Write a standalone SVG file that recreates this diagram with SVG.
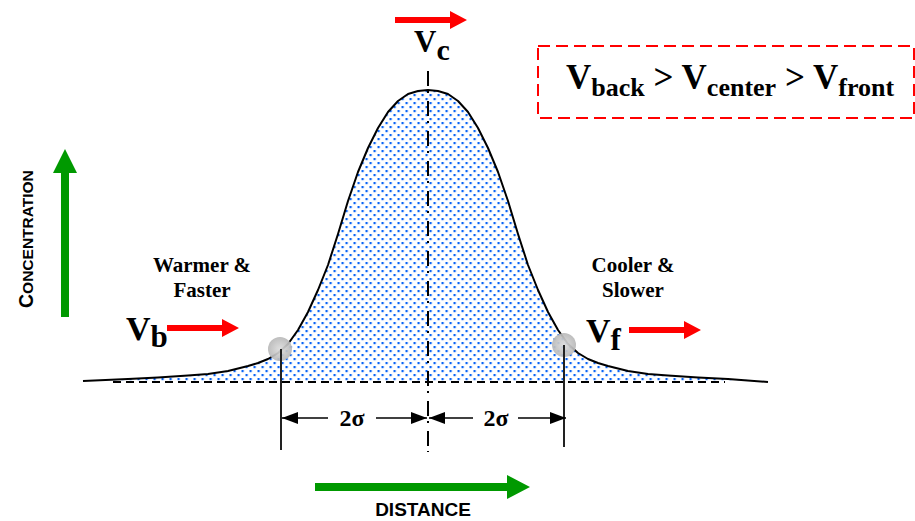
<svg xmlns="http://www.w3.org/2000/svg" width="915" height="521" viewBox="0 0 915 521">
<style>
.serif{font-family:"Liberation Serif","Times New Roman",serif;font-weight:bold;fill:#000}
.sans{font-family:"Liberation Sans",Arial,sans-serif;font-weight:bold;fill:#000}
.red{fill:#ff0000}
.green{fill:#009900}
.dim{stroke:#000;stroke-width:1.6;fill:none}
.vline{stroke:#222;stroke-width:2;fill:none}
</style>
<defs>
<pattern id="dots" width="8" height="8" patternUnits="userSpaceOnUse" x="1.5" y="2">
<rect x="0" y="0" width="2.2" height="2.2" fill="#0a64f5"/>
<rect x="4" y="4" width="2.2" height="2.2" fill="#0a64f5"/>
</pattern>
<radialGradient id="ball" cx="0.5" cy="0.5" r="0.5">
<stop offset="0" stop-color="#dcdcdc"/>
<stop offset="1" stop-color="#b8b8b8"/>
</radialGradient>
<path id="redArrow" d="M0,-3 H55 V-9 L72,0 L55,9 V3 H0 Z"/>
<marker id="ah" viewBox="0 0 16 12" refX="16" refY="6" markerWidth="16" markerHeight="12" markerUnits="userSpaceOnUse" orient="auto-start-reverse">
<path d="M0,0 L16,6 L0,12 Z" fill="#000"/>
</marker>
</defs>
<rect width="915" height="521" fill="#fff"/>

<g id="curve">
<path fill="url(#dots)" d="M83,381 L128,379 L158,377.5 L188,375.5 L208,374 L228,371 L248,366 L258,363 L268,359 L278,353 L288,344 L298,330 L308,312 L318,290 L328,265 L338,234 L348,201 L358,172 L368,148 L378,128 L388,112 L398,101 L408,94 L418,91 L428,90 L438,91 L448,94 L458,101 L468,112 L478,128 L488,148 L498,172 L508,201 L518,234 L528,265 L538,290 L548,312 L558,330 L568,344 L578,353 L588,359 L598,363 L608,366 L628,371 L648,374 L668,375.5 L698,377.5 L728,379 L768,381 Z"/>
<line x1="113" y1="382" x2="725" y2="382" stroke="#000" stroke-width="2" stroke-dasharray="8 5"/>
<path fill="none" stroke="#000" stroke-width="2" stroke-linejoin="round" d="M83,381 L128,379 L158,377.5 L188,375.5 L208,374 L228,371 L248,366 L258,363 L268,359 L278,353 L288,344 L298,330 L308,312 L318,290 L328,265 L338,234 L348,201 L358,172 L368,148 L378,128 L388,112 L398,101 L408,94 L418,91 L428,90 L438,91 L448,94 L458,101 L468,112 L478,128 L488,148 L498,172 L508,201 L518,234 L528,265 L538,290 L548,312 L558,330 L568,344 L578,353 L588,359 L598,363 L608,366 L628,371 L648,374 L668,375.5 L698,377.5 L728,379 L768,382"/>
</g>

<g id="connectors">
<line x1="428" y1="71" x2="428" y2="452" stroke="#000" stroke-width="2" stroke-dasharray="15 5 2 8"/>
<line class="vline" x1="281" y1="349" x2="281" y2="450"/>
<line class="vline" x1="564" y1="345" x2="564" y2="447"/>
<line class="dim" x1="328" y1="418" x2="282" y2="418" marker-end="url(#ah)"/>
<line class="dim" x1="376" y1="418" x2="427" y2="418" marker-end="url(#ah)"/>
<line class="dim" x1="473" y1="418" x2="429" y2="418" marker-end="url(#ah)"/>
<line class="dim" x1="518" y1="418" x2="566" y2="418" marker-end="url(#ah)"/>
</g>

<g id="point-back">
<circle cx="280" cy="349" r="12" fill="url(#ball)" opacity="0.92"/>
<line class="vline" x1="281" y1="349" x2="281" y2="362"/>
</g>
<g id="point-front">
<circle cx="564" cy="345" r="12" fill="url(#ball)" opacity="0.92"/>
<line class="vline" x1="564" y1="345" x2="564" y2="358"/>
</g>

<g id="label-2sigma-left"><text class="serif" x="352" y="426" font-size="24" text-anchor="middle">2σ</text></g>
<g id="label-2sigma-right"><text class="serif" x="496" y="426" font-size="24" text-anchor="middle">2σ</text></g>

<g id="vc">
<use href="#redArrow" class="red" transform="translate(395,20)"/>
<text class="serif" x="414" y="52" font-size="31">V<tspan dy="8" font-size="30">c</tspan></text>
</g>

<g id="vb">
<text class="serif" x="126" y="340" font-size="34">V<tspan dy="7" font-size="31">b</tspan></text>
<use href="#redArrow" class="red" transform="translate(167,328)"/>
</g>
<g id="vf">
<text class="serif" x="586" y="342" font-size="34">V<tspan dy="8" font-size="31">f</tspan></text>
<use href="#redArrow" class="red" transform="translate(629,330)"/>
</g>

<g id="warmer">
<text class="serif" x="202" y="272" font-size="21" text-anchor="middle">Warmer &amp;</text>
<text class="serif" x="202" y="297" font-size="21" text-anchor="middle">Faster</text>
</g>
<g id="cooler">
<text class="serif" x="633" y="272" font-size="21" text-anchor="middle">Cooler &amp;</text>
<text class="serif" x="633" y="297" font-size="21" text-anchor="middle">Slower</text>
</g>

<g id="relation">
<rect x="538" y="46" width="376" height="72" fill="none" stroke="#ff0000" stroke-width="2" stroke-dasharray="12 6"/>
<text class="serif" x="566" y="89" font-size="35">V<tspan dy="7" font-size="26">back</tspan><tspan dy="-7"> &gt; V</tspan><tspan dy="7" font-size="26">center</tspan><tspan dy="-7"> &gt; V</tspan><tspan dy="7" font-size="26">front</tspan></text>
</g>

<g id="y-axis">
<path class="green" d="M61,317 V173 H53 L65,149 L77,173 H69 V317 Z"/>
<text class="sans" transform="translate(33,308) rotate(-90)" font-size="15.5"><tspan font-size="19.5">C</tspan>ONCENTRATION</text>
</g>
<g id="x-axis">
<path class="green" d="M315,483 H507 V475 L530,487 L507,499 V491 H315 Z"/>
<text class="sans" x="423" y="516" font-size="19" text-anchor="middle">DISTANCE</text>
</g>
</svg>
